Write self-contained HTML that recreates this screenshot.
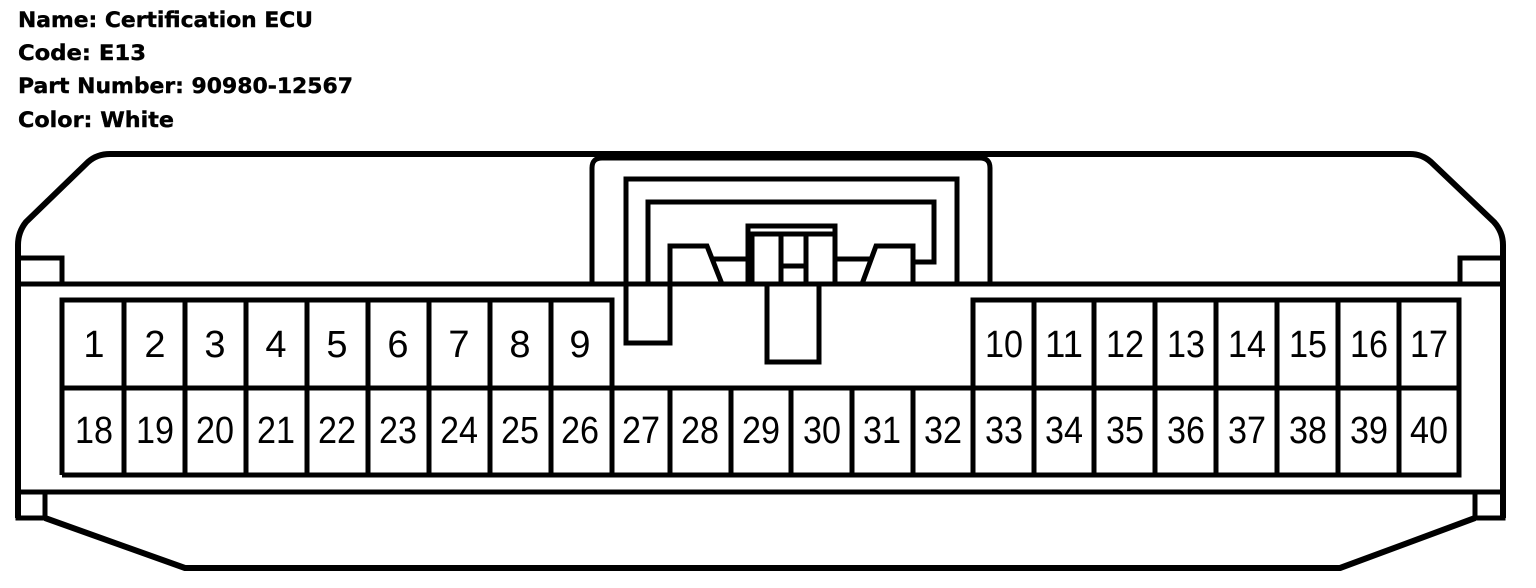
<!DOCTYPE html>
<html><head><meta charset="utf-8"><style>
html,body{margin:0;padding:0;background:#fff;}
svg{display:block;}
.h{font-family:"DejaVu Sans","Liberation Sans",sans-serif;font-weight:bold;font-size:21px;fill:#000;stroke:#000;stroke-width:0.4;}
.n{font-family:"Liberation Sans",sans-serif;font-size:38px;fill:#000;text-anchor:middle;}
</style></head><body>
<svg width="1536" height="588" viewBox="0 0 1536 588" xmlns="http://www.w3.org/2000/svg">
<text class="h" x="18" y="27" textLength="295" lengthAdjust="spacingAndGlyphs">Name:  Certification ECU</text>
<text class="h" x="18" y="60" textLength="128" lengthAdjust="spacingAndGlyphs">Code:  E13</text>
<text class="h" x="18" y="93" textLength="335" lengthAdjust="spacingAndGlyphs">Part Number: 90980-12567</text>
<text class="h" x="18" y="127" textLength="156" lengthAdjust="spacingAndGlyphs">Color:  White</text>
<g fill="none" stroke="#000" stroke-width="6" stroke-linejoin="round">
<path d="M18,518 L18,245 Q18,232 26,222 L88,162 Q97,154 110,154 L1410,154 Q1422,154 1431,162 L1494,222 Q1503,232 1503,245 L1503,518"/>
<path d="M45,518 L185,568 L1340,568 L1475,518"/>
</g>
<g fill="none" stroke="#000" stroke-width="5">
<rect x="18" y="258" width="44" height="26"/>
<rect x="1460" y="258" width="43" height="26"/>
<rect x="18" y="492" width="27" height="26"/>
<rect x="1475" y="492" width="28" height="26"/>
<line x1="18" y1="284" x2="1503" y2="284"/>
<line x1="18" y1="492" x2="1503" y2="492"/>
<path d="M592,284 L592,168 Q592,158 602,158 L980,158 Q990,158 990,168 L990,284"/>
<path d="M670,284 L670,343 L626,343 L626,179 L957,179 L957,284"/>
<path d="M648,284 L648,202 L934,202 L934,262 L912,262"/>
<path d="M670,284 L670,246 L707,246 L722,284"/>
<line x1="712" y1="259" x2="748" y2="259"/>
<rect x="748" y="226" width="87" height="58"/>
<line x1="752" y1="234" x2="835" y2="234"/>
<rect x="752" y="234" width="29" height="50"/>
<rect x="806" y="234" width="29" height="50"/>
<line x1="781" y1="266" x2="806" y2="266"/>
<line x1="835" y1="259" x2="870" y2="259"/>
<path d="M862,284 L876,246 L913,246 L913,284"/>
<rect x="767" y="284" width="52" height="78"/>
<path d="M62,475 L62,300 L612,300 L612,475"/>
<path d="M973,475 L973,300 L1459,300 L1459,475 L62,475"/>
<line x1="62" y1="388" x2="1459" y2="388"/>
</g>
<g stroke="#000" stroke-width="5">
<line x1="124" y1="300" x2="124" y2="475"/><line x1="185" y1="300" x2="185" y2="475"/><line x1="246" y1="300" x2="246" y2="475"/><line x1="307" y1="300" x2="307" y2="475"/><line x1="368" y1="300" x2="368" y2="475"/><line x1="429" y1="300" x2="429" y2="475"/><line x1="490" y1="300" x2="490" y2="475"/><line x1="551" y1="300" x2="551" y2="475"/>
<line x1="670" y1="388" x2="670" y2="475"/><line x1="731" y1="388" x2="731" y2="475"/><line x1="791" y1="388" x2="791" y2="475"/><line x1="852" y1="388" x2="852" y2="475"/><line x1="913" y1="388" x2="913" y2="475"/>
<line x1="1034" y1="300" x2="1034" y2="475"/><line x1="1094" y1="300" x2="1094" y2="475"/><line x1="1155" y1="300" x2="1155" y2="475"/><line x1="1216" y1="300" x2="1216" y2="475"/><line x1="1277" y1="300" x2="1277" y2="475"/><line x1="1338" y1="300" x2="1338" y2="475"/><line x1="1399" y1="300" x2="1399" y2="475"/>
</g>
<g class="n">
<text x="94" y="357">1</text><text x="155" y="357">2</text><text x="215" y="357">3</text><text x="276" y="357">4</text><text x="337" y="357">5</text><text x="398" y="357">6</text><text x="459" y="357">7</text><text x="520" y="357">8</text><text x="580" y="357">9</text>
</g>
<g class="n">
<text x="1004" y="357" textLength="38" lengthAdjust="spacingAndGlyphs">10</text><text x="1064" y="357" textLength="38" lengthAdjust="spacingAndGlyphs">11</text><text x="1125" y="357" textLength="38" lengthAdjust="spacingAndGlyphs">12</text><text x="1186" y="357" textLength="38" lengthAdjust="spacingAndGlyphs">13</text><text x="1247" y="357" textLength="38" lengthAdjust="spacingAndGlyphs">14</text><text x="1308" y="357" textLength="38" lengthAdjust="spacingAndGlyphs">15</text><text x="1369" y="357" textLength="38" lengthAdjust="spacingAndGlyphs">16</text><text x="1429" y="357" textLength="38" lengthAdjust="spacingAndGlyphs">17</text>
<text x="94" y="443" textLength="38" lengthAdjust="spacingAndGlyphs">18</text><text x="155" y="443" textLength="38" lengthAdjust="spacingAndGlyphs">19</text><text x="215" y="443" textLength="38" lengthAdjust="spacingAndGlyphs">20</text><text x="276" y="443" textLength="38" lengthAdjust="spacingAndGlyphs">21</text><text x="337" y="443" textLength="38" lengthAdjust="spacingAndGlyphs">22</text><text x="398" y="443" textLength="38" lengthAdjust="spacingAndGlyphs">23</text><text x="459" y="443" textLength="38" lengthAdjust="spacingAndGlyphs">24</text><text x="520" y="443" textLength="38" lengthAdjust="spacingAndGlyphs">25</text><text x="580" y="443" textLength="38" lengthAdjust="spacingAndGlyphs">26</text><text x="641" y="443" textLength="38" lengthAdjust="spacingAndGlyphs">27</text><text x="700" y="443" textLength="38" lengthAdjust="spacingAndGlyphs">28</text><text x="761" y="443" textLength="38" lengthAdjust="spacingAndGlyphs">29</text><text x="822" y="443" textLength="38" lengthAdjust="spacingAndGlyphs">30</text><text x="882" y="443" textLength="38" lengthAdjust="spacingAndGlyphs">31</text><text x="943" y="443" textLength="38" lengthAdjust="spacingAndGlyphs">32</text><text x="1004" y="443" textLength="38" lengthAdjust="spacingAndGlyphs">33</text><text x="1064" y="443" textLength="38" lengthAdjust="spacingAndGlyphs">34</text><text x="1125" y="443" textLength="38" lengthAdjust="spacingAndGlyphs">35</text><text x="1186" y="443" textLength="38" lengthAdjust="spacingAndGlyphs">36</text><text x="1247" y="443" textLength="38" lengthAdjust="spacingAndGlyphs">37</text><text x="1308" y="443" textLength="38" lengthAdjust="spacingAndGlyphs">38</text><text x="1369" y="443" textLength="38" lengthAdjust="spacingAndGlyphs">39</text><text x="1429" y="443" textLength="38" lengthAdjust="spacingAndGlyphs">40</text>
</g>
</svg>
</body></html>
